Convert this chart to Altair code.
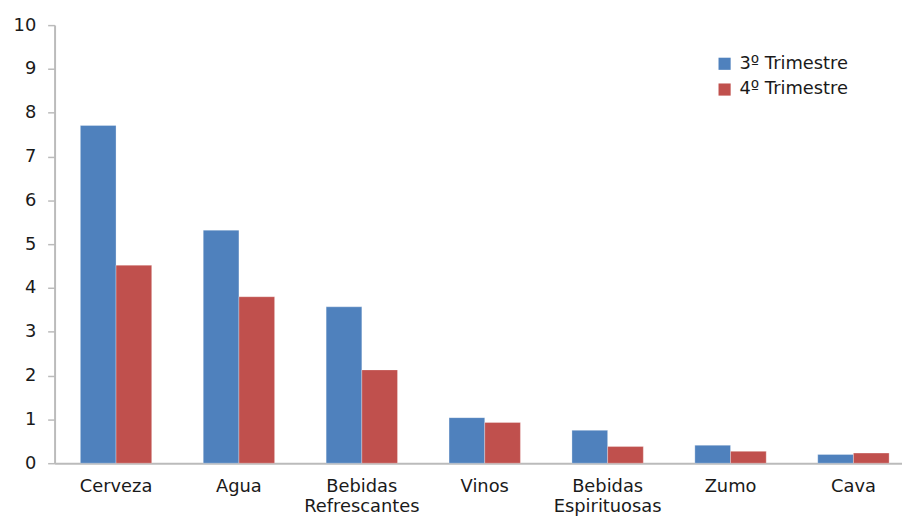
import altair as alt
import pandas as pd

categories = ["Cerveza", "Agua", "Bebidas Refrescantes", "Vinos",
              "Bebidas Espirituosas", "Zumo", "Cava"]
q3 = [7.71, 5.32, 3.57, 1.04, 0.75, 0.41, 0.20]
q4 = [4.52, 3.80, 2.13, 0.93, 0.38, 0.27, 0.23]
series = ["3º Trimestre", "4º Trimestre"]
colors = ["#4F81BD", "#C0504D"]

rows = []
for c, a, b in zip(categories, q3, q4):
    rows.append({"cat": c, "serie": series[0], "valor": a})
    rows.append({"cat": c, "serie": series[1], "valor": b})
df = pd.DataFrame(rows)

FONT = "DejaVu Sans"

chart = alt.Chart(df).mark_bar(stroke="white", strokeWidth=0.5, strokeOpacity=0.6).encode(
    x=alt.X("cat:N", sort=categories,
            scale=alt.Scale(range=[0, 868], paddingInner=0, paddingOuter=0),
            axis=alt.Axis(title=None, labelAngle=0, ticks=False,
                          labelExpr="split(datum.label, ' ')",
                          labelFont=FONT, labelFontSize=18, labelColor="#1a1a1a",
                          labelPadding=15, labelLineHeight=20,
                          domainColor="#BBBBBB", domainWidth=2)),
    xOffset=alt.XOffset("serie:N", sort=series,
                        scale=alt.Scale(paddingInner=0, paddingOuter=0.722)),
    y=alt.Y("valor:Q", scale=alt.Scale(domain=[0, 10]),
            axis=alt.Axis(title=None, values=list(range(0, 11)), grid=False,
                          tickSize=7, tickColor="#BBBBBB", tickWidth=1.5,
                          domainColor="#BBBBBB", domainWidth=2,
                          labelFont=FONT, labelFontSize=18, labelColor="#1a1a1a",
                          labelPadding=12)),
    color=alt.Color("serie:N", sort=series,
                    scale=alt.Scale(domain=series, range=colors),
                    legend=alt.Legend(title=None, orient="none", legendX=667, legendY=30,
                                      symbolType="square", symbolSize=150,
                                      symbolStrokeWidth=0, rowPadding=8,
                                      labelFont=FONT, labelFontSize=18,
                                      labelColor="#1a1a1a", labelOffset=6)),
).properties(
    width=855, height=442,
    autosize=alt.AutoSizeParams(type="none"),
    padding={"left": 47, "top": 15, "right": 0, "bottom": 51},
).configure_view(stroke=None)

chart.save("out.html", embed_options={"renderer": "svg", "actions": False})
